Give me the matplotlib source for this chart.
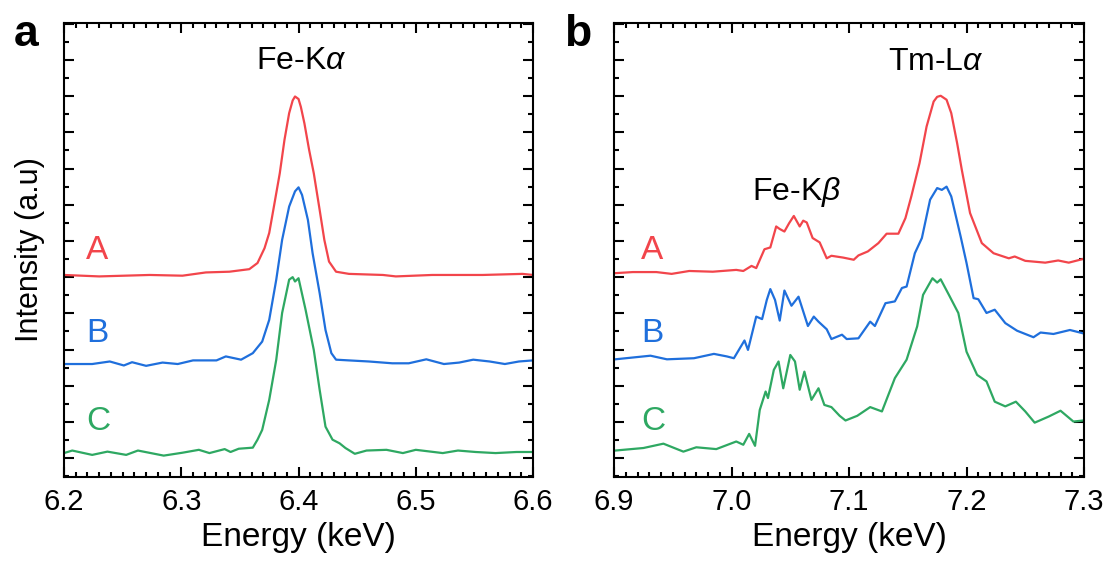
"""Fe-K and Tm-L emission spectra for samples A, B and C"""
import matplotlib.pyplot as plt
from matplotlib.ticker import MultipleLocator

plt.rcParams['font.family'] = ['Liberation Sans', 'DejaVu Sans']
plt.rcParams['mathtext.fontset'] = 'custom'
plt.rcParams['mathtext.rm'] = 'Liberation Sans'
plt.rcParams['mathtext.it'] = 'Liberation Sans:italic'

RED = '#f2454b'
BLUE = '#1f6fdc'
GREEN = '#2ea862'

# ---- panel a: Fe-K alpha region (energy in keV, intensity in a.u., offset) ----
E_A_KA = [6.200, 6.230, 6.273, 6.301, 6.321, 6.341, 6.358, 6.365, 6.371, 6.375,
          6.379, 6.384, 6.388, 6.392, 6.395, 6.397, 6.400, 6.402, 6.405, 6.409,
          6.413, 6.418, 6.422, 6.426, 6.432, 6.443, 6.472, 6.483, 6.514, 6.557,
          6.591, 6.600]
I_A_KA = [5.06, 5.02, 5.06, 5.04, 5.13, 5.15, 5.22, 5.39, 5.80, 6.22,
          6.95, 7.87, 8.79, 9.53, 9.88, 9.99, 9.92, 9.70, 9.25, 8.52,
          7.87, 6.86, 6.03, 5.43, 5.15, 5.09, 5.06, 5.02, 5.06, 5.06,
          5.09, 5.06]

E_B_KA = [6.200, 6.224, 6.239, 6.251, 6.258, 6.270, 6.284, 6.297, 6.310, 6.330,
          6.338, 6.351, 6.361, 6.369, 6.375, 6.381, 6.386, 6.392, 6.397, 6.400,
          6.403, 6.408, 6.412, 6.418, 6.423, 6.428, 6.432, 6.443, 6.460, 6.480,
          6.494, 6.509, 6.524, 6.537, 6.549, 6.563, 6.576, 6.588, 6.600]
I_B_KA = [2.60, 2.60, 2.67, 2.56, 2.65, 2.55, 2.64, 2.60, 2.70, 2.70,
          2.81, 2.72, 2.90, 3.22, 3.82, 4.93, 6.03, 6.95, 7.37, 7.48,
          7.27, 6.58, 5.66, 4.56, 3.54, 2.90, 2.72, 2.70, 2.67, 2.62,
          2.62, 2.73, 2.60, 2.64, 2.72, 2.67, 2.60, 2.67, 2.70]

E_C_KA = [6.200, 6.207, 6.224, 6.237, 6.253, 6.263, 6.285, 6.301, 6.315, 6.324,
          6.337, 6.342, 6.349, 6.361, 6.365, 6.369, 6.375, 6.381, 6.386, 6.392,
          6.395, 6.397, 6.400, 6.406, 6.413, 6.418, 6.423, 6.429, 6.435, 6.440,
          6.448, 6.458, 6.475, 6.489, 6.500, 6.523, 6.536, 6.551, 6.568, 6.586,
          6.600]
I_C_KA = [0.14, 0.21, 0.09, 0.18, 0.09, 0.21, 0.07, 0.15, 0.23, 0.14,
          0.25, 0.17, 0.26, 0.29, 0.51, 0.78, 1.61, 2.72, 4.01, 4.93,
          5.00, 4.88, 4.97, 4.10, 2.99, 1.89, 0.87, 0.51, 0.41, 0.28,
          0.12, 0.21, 0.23, 0.14, 0.23, 0.14, 0.21, 0.17, 0.14, 0.17,
          0.17]

# ---- panel b: Fe-K beta and Tm-L alpha region ----
E_A_KB = [6.901, 6.916, 6.936, 6.949, 6.964, 6.984, 7.004, 7.010, 7.017, 7.021,
          7.028, 7.033, 7.038, 7.041, 7.045, 7.049, 7.053, 7.058, 7.061, 7.064,
          7.069, 7.075, 7.081, 7.085, 7.095, 7.104, 7.108, 7.116, 7.125, 7.132,
          7.142, 7.148, 7.153, 7.160, 7.166, 7.172, 7.175, 7.178, 7.183, 7.187,
          7.192, 7.196, 7.203, 7.213, 7.223, 7.236, 7.241, 7.250, 7.267, 7.278,
          7.287, 7.299]
I_A_KB = [5.11, 5.14, 5.14, 5.09, 5.17, 5.15, 5.20, 5.17, 5.31, 5.25,
          5.77, 5.82, 6.40, 6.33, 6.26, 6.49, 6.69, 6.40, 6.56, 6.51,
          6.08, 5.96, 5.52, 5.59, 5.54, 5.48, 5.60, 5.71, 5.94, 6.20,
          6.20, 6.63, 7.23, 8.15, 9.16, 9.85, 9.98, 10.01, 9.90, 9.53,
          8.70, 7.96, 6.77, 5.94, 5.66, 5.52, 5.57, 5.45, 5.40, 5.46,
          5.40, 5.50]

E_B_KB = [6.901, 6.931, 6.945, 6.968, 6.985, 6.996, 7.002, 7.011, 7.014, 7.021,
          7.026, 7.030, 7.033, 7.037, 7.041, 7.045, 7.051, 7.057, 7.065, 7.070,
          7.074, 7.081, 7.085, 7.094, 7.098, 7.108, 7.118, 7.122, 7.131, 7.139,
          7.145, 7.149, 7.156, 7.162, 7.169, 7.175, 7.179, 7.183, 7.187, 7.195,
          7.200, 7.206, 7.210, 7.217, 7.224, 7.233, 7.243, 7.257, 7.263, 7.274,
          7.288, 7.299]
I_B_KB = [2.73, 2.83, 2.73, 2.76, 2.88, 2.81, 2.76, 3.25, 2.99, 3.91,
          3.84, 4.37, 4.67, 4.37, 3.80, 4.63, 4.21, 4.46, 3.65, 3.91,
          3.77, 3.56, 3.29, 3.41, 3.29, 3.31, 3.77, 3.65, 4.28, 4.33,
          4.70, 4.74, 5.66, 6.08, 7.14, 7.46, 7.41, 7.50, 7.23, 6.12,
          5.39, 4.42, 4.39, 4.01, 4.10, 3.73, 3.52, 3.34, 3.47, 3.43,
          3.54, 3.45]

E_C_KB = [6.901, 6.925, 6.942, 6.959, 6.970, 6.987, 7.004, 7.010, 7.015, 7.020,
          7.024, 7.029, 7.031, 7.036, 7.040, 7.044, 7.050, 7.054, 7.058, 7.062,
          7.068, 7.074, 7.079, 7.085, 7.092, 7.097, 7.107, 7.118, 7.128, 7.139,
          7.149, 7.158, 7.163, 7.171, 7.175, 7.178, 7.185, 7.193, 7.200, 7.209,
          7.217, 7.224, 7.233, 7.242, 7.250, 7.258, 7.270, 7.280, 7.291, 7.299]
I_C_KB = [0.21, 0.28, 0.40, 0.18, 0.30, 0.25, 0.46, 0.37, 0.67, 0.34,
          1.33, 1.84, 1.66, 2.44, 2.67, 1.93, 2.85, 2.67, 1.89, 2.39,
          1.61, 1.93, 1.47, 1.41, 1.17, 1.04, 1.17, 1.41, 1.29, 2.21,
          2.72, 3.64, 4.51, 4.97, 4.85, 4.94, 4.51, 4.01, 2.94, 2.30,
          2.12, 1.56, 1.43, 1.56, 1.29, 0.98, 1.15, 1.31, 1.01, 1.04]

SAMPLES = ['A', 'B', 'C']
LABEL_Y = [5.5, 3.21, 0.78]


def style_axes(ax, xmin, xmax):
    """box with inward ticks on all four sides, no y numbers"""
    ax.set_xlim(xmin, xmax)
    ax.set_ylim(-0.52, 12.02)
    ax.xaxis.set_major_locator(MultipleLocator(0.1))
    ax.xaxis.set_minor_locator(MultipleLocator(0.01))
    ax.yaxis.set_major_locator(MultipleLocator(1))
    ax.yaxis.set_minor_locator(MultipleLocator(0.5))
    ax.tick_params(which='both', direction='in', top=True, right=True,
                   width=1.5, labelsize=21, pad=8)
    ax.tick_params(which='major', length=7)
    ax.tick_params(which='minor', length=3.6)
    ax.tick_params(axis='y', labelleft=False)
    ax.xaxis.set_major_formatter(lambda v, pos: f'{v:.1f}')
    for sp in ax.spines.values():
        sp.set_linewidth(1.5)
    ax.set_xlabel('Energy (keV)', fontsize=24, labelpad=4)


fig = plt.figure(figsize=(11.1, 5.65), dpi=100)
ax_a = fig.add_axes([0.0577, 0.1558, 0.4225, 0.8035])
ax_b = fig.add_axes([0.5532, 0.1558, 0.4234, 0.8035])

for x, y, c in [(E_A_KA, I_A_KA, RED), (E_B_KA, I_B_KA, BLUE), (E_C_KA, I_C_KA, GREEN)]:
    ax_a.plot(x, y, color=c, lw=1.6)
for x, y, c in [(E_A_KB, I_A_KB, RED), (E_B_KB, I_B_KB, BLUE), (E_C_KB, I_C_KB, GREEN)]:
    ax_b.plot(x, y, color=c, lw=1.6)

style_axes(ax_a, 6.2, 6.6)
style_axes(ax_b, 6.9, 7.3)
ax_a.set_ylabel('Intensity (a.u)', fontsize=22, labelpad=6)

for name, ly, c in zip(SAMPLES, LABEL_Y, [RED, BLUE, GREEN]):
    ax_a.text(6.219, ly, name, color=c, fontsize=24, va='baseline')
    ax_b.text(6.923, ly, name, color=c, fontsize=24, va='baseline')

ax_a.text(6.402, 10.75, r'Fe-K$\alpha$', fontsize=23, ha='center', va='baseline')
ax_b.text(7.055, 7.13, r'Fe-K$\beta$', fontsize=23, ha='center', va='baseline')
ax_b.text(7.174, 10.72, r'Tm-L$\alpha$', fontsize=23, ha='center', va='baseline')

fig.text(0.012, 0.918, 'a', fontsize=32, fontweight='bold')
fig.text(0.508, 0.918, 'b', fontsize=32, fontweight='bold')

fig.savefig('out.png', dpi=100)
